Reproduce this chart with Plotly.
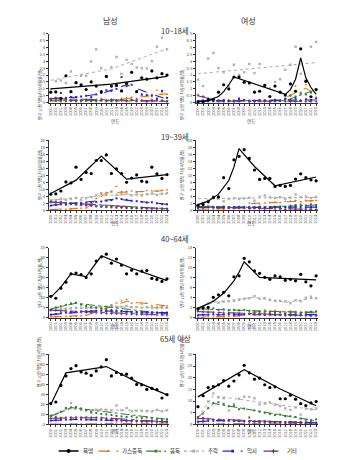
import plotly.graph_objects as go

W, H = 348, 460
FONT = "Noto Sans CJK KR, Noto Sans, sans-serif"
YEARS = list(range(2000, 2024))

# ---------------- data (rate per 100,000) ----------------
# Male 10-18
M10_hang = [0.76,0.78,0.32,1.95,0.80,1.45,1.30,0.95,1.50,1.20,0.80,1.90,1.20,1.25,0.85,1.40,2.20,0.80,1.80,1.70,2.30,1.80,2.10,2.00]
M10_hang_fit = [(2000,1.0),(2012,1.35),(2023,1.9)]
M10_gas = [0.10,0.10,0.15,0.20,0.10,0.15,0.20,0.10,0.20,0.15,0.30,0.20,0.25,0.20,0.30,0.35,0.40,0.30,0.55,0.50,0.60,0.90,0.70,0.60]
M10_gas_fit = [(2000,0.12),(2013,0.2),(2023,0.65)]
M10_poison = [0.20,0.15,0.10,0.10,0.15,0.10,0.10,0.15,0.10,0.10,0.15,0.10,0.10,0.10,0.15,0.10,0.20,0.10,0.15,0.10,0.10,0.20,0.15,0.10]
M10_poison_fit = [(2000,0.18),(2023,0.1)]
M10_fall = [1.00,1.55,1.60,1.43,2.26,1.45,1.95,1.95,2.98,3.86,2.50,1.90,2.57,3.30,2.10,3.10,2.80,2.55,2.50,2.48,3.00,4.05,4.70,3.86]
M10_fall_fit = [(2000,1.62),(2012,2.45),(2023,3.9)]
M10_drown = [0.25,0.30,0.70,0.35,0.40,0.40,0.45,0.50,0.40,0.60,0.70,0.90,0.85,1.00,1.85,1.20,1.30,0.80,0.60,0.55,0.50,0.30,0.85,0.35]
M10_drown_fit = [(2000,0.3),(2005,0.4),(2010,0.65),(2015,1.3),(2019,0.75),(2023,0.25)]
M10_other = [0.30,0.35,0.20,0.25,0.20,0.20,0.15,0.20,0.20,0.20,0.20,0.15,0.20,0.15,0.20,0.15,0.20,0.20,0.15,0.10,0.20,0.15,0.15,0.10]
M10_other_fit = [(2000,0.3),(2023,0.12)]

# Female 10-18
F10_hang = [0.05,0.07,0.20,0.25,0.76,1.30,1.00,1.86,1.86,1.48,1.43,0.76,0.83,1.25,0.45,1.20,0.76,0.55,1.36,0.83,3.90,1.55,0.43,0.95]
F10_hang_fit = [(2000,0.05),(2002,0.15),(2004,0.45),(2005,0.8),(2006,1.3),(2007,1.86),(2017,0.6),(2018,0.95),(2019,1.7),(2020,3.25),(2021,1.8),(2022,1.1),(2023,0.6)]
F10_gas = [0.05,0.05,0.10,0.10,0.05,0.10,0.15,0.10,0.10,0.15,0.10,0.15,0.10,0.20,0.15,0.10,0.20,0.30,0.55,1.20,0.76,1.30,0.70,0.40]
F10_gas_fit = [(2000,0.1),(2016,0.2),(2021,1.05),(2023,0.6)]
F10_poison = [0.10,0.15,0.10,0.20,0.15,0.10,0.15,0.10,0.20,0.15,0.10,0.15,0.10,0.15,0.10,0.20,0.15,0.30,0.50,0.45,0.65,0.60,0.75,0.95]
F10_poison_fit = [(2000,0.15),(2017,0.15),(2023,0.95)]
F10_fall = [1.67,1.20,3.20,3.60,2.50,2.20,1.20,2.74,2.00,2.20,2.80,2.14,2.80,1.24,1.07,1.50,1.70,2.38,2.74,4.05,2.10,1.60,4.05,4.40]
F10_fall_fit = [(2000,2.1),(2023,2.9)]
F10_drown = [0.10,0.15,0.20,0.10,0.15,0.20,0.10,0.15,0.30,0.20,0.15,0.10,0.20,0.15,0.10,0.20,0.15,0.25,0.20,0.30,0.15,0.25,0.20,0.30]
F10_drown_fit = [(2000,0.12),(2023,0.2)]
F10_other = [0.55,0.45,0.30,0.20,0.15,0.10,0.15,0.10,0.10,0.15,0.10,0.10,0.15,0.10,0.10,0.10,0.15,0.10,0.10,0.10,0.15,0.10,0.10,0.10]
F10_other_fit = [(2000,0.5),(2004,0.12),(2023,0.1)]

# Male 19-39
M19_hang = [4.6,4.7,5.5,8.1,7.8,12.3,8.8,10.8,10.5,14.2,14.2,15.8,10.5,11.8,10.5,8.0,9.2,10.1,8.3,8.1,12.3,10.4,9.1,10.2]
M19_hang_fit = [(2000,4.8),(2005,8.6),(2010,15.5),(2015,8.9),(2023,10.2)]
M19_gas = [0.2,0.2,0.3,0.3,0.4,0.5,0.6,0.7,1.5,3.4,4.6,5.0,5.4,6.8,5.3,5.4,5.5,5.2,5.3,5.6,5.5,5.4,5.7,5.8]
M19_gas_fit = [(2000,0.2),(2007,0.6),(2011,5.0),(2023,5.6)]
M19_poison = [2.5,2.3,2.4,2.1,1.9,1.8,1.6,1.5,1.4,1.2,1.0,1.0,0.9,0.8,0.8,0.7,0.6,0.7,0.6,0.6,0.5,0.5,0.5,0.4]
M19_poison_fit = [(2000,2.4),(2023,0.45)]
M19_fall = [2.8,2.9,3.2,3.0,3.3,3.5,3.0,3.4,3.8,4.3,4.9,4.5,5.2,4.4,4.6,4.8,4.3,4.5,4.2,4.6,4.8,4.4,4.7,4.9]
M19_fall_fit = [(2000,2.9),(2012,4.3),(2023,4.7)]
M19_drown = [1.3,1.5,1.7,1.6,1.8,1.9,2.1,2.2,2.3,2.4,2.5,2.7,2.9,3.4,3.2,3.0,2.7,2.6,2.4,2.2,2.3,2.0,1.8,1.7]
M19_drown_fit = [(2000,1.4),(2013,3.2),(2023,1.7)]
M19_other = [2.3,2.2,2.0,1.9,1.8,1.6,1.5,1.4,1.3,1.2,1.1,1.0,0.9,0.9,0.8,0.7,0.7,0.6,0.6,0.5,0.5,0.5,0.4,0.4]
M19_other_fit = [(2000,2.3),(2023,0.4)]

# Female 19-39
F19_hang = [1.4,1.7,2.4,3.6,3.8,9.3,6.2,14.4,15.4,17.3,14.8,11.5,8.8,9.1,9.1,6.8,7.1,6.8,7.1,8.9,10.4,9.3,8.7,8.4]
F19_hang_fit = [(2000,1.6),(2002,2.6),(2004,4.6),(2006,8.5),(2007,12.3),(2008,17.6),(2011,12.5),(2015,7.0),(2023,9.5)]
F19_gas = [0.3,0.3,0.2,0.4,0.4,0.3,0.5,0.5,0.6,1.0,2.0,1.9,1.8,2.1,2.2,2.3,2.2,2.5,2.6,2.8,2.4,2.9,2.6,2.8]
F19_gas_fit = [(2000,0.3),(2008,0.6),(2010,1.9),(2023,2.8)]
F19_poison = [1.0,1.2,1.1,1.0,0.9,1.1,0.8,0.9,1.0,0.8,0.9,0.7,0.8,0.7,0.9,1.0,1.1,1.0,1.3,1.5,1.6,1.4,1.7,1.5]
F19_poison_fit = [(2000,1.1),(2011,0.8),(2023,1.5)]
F19_fall = [1.4,2.0,2.8,3.9,3.3,2.6,3.2,3.4,3.3,3.4,3.6,2.7,3.9,4.2,3.7,3.5,3.7,3.3,3.6,4.5,3.8,3.9,3.5,3.8]
F19_fall_fit = [(2000,3.3),(2023,3.7)]
F19_drown = [0.7,0.8,0.9,0.8,0.7,0.9,0.8,0.9,0.8,0.9,0.8,0.9,1.0,0.9,0.8,0.9,0.8,0.9,0.9,1.0,0.9,0.8,0.9,0.9]
F19_drown_fit = [(2000,0.8),(2023,0.9)]
F19_other = [1.0,0.9,0.9,0.8,0.8,0.7,0.7,0.6,0.7,0.6,0.5,0.6,0.5,0.4,0.5,0.4,0.4,0.3,0.4,0.3,0.3,0.3,0.3,0.2]
F19_other_fit = [(2000,0.95),(2023,0.25)]

# Male 40-64
M40_hang = [10.8,9.8,14.8,17.8,22.0,22.4,21.6,20.2,22.0,28.4,30.4,31.8,27.3,29.4,26.3,22.0,23.8,22.0,23.3,23.6,19.7,19.2,18.2,19.5]
M40_hang_fit = [(2000,10.2),(2002,15.3),(2004,22.0),(2007,20.6),(2010,31.0),(2016,24.8),(2023,18.6)]
M40_gas = [0.5,0.5,0.6,0.7,0.6,0.8,1.0,1.3,2.6,3.5,4.8,5.5,6.3,7.5,8.6,9.2,7.4,7.6,7.0,7.3,6.1,5.5,5.9,6.0]
M40_gas_fit = [(2000,0.5),(2007,1.2),(2015,8.3),(2023,6.0)]
M40_poison = [4.0,5.2,5.8,6.5,7.2,7.6,6.6,5.9,5.2,5.0,4.6,4.3,4.0,3.7,3.5,3.1,3.0,2.8,2.6,2.5,2.4,2.3,2.1,2.2]
M40_poison_fit = [(2000,4.5),(2005,7.3),(2023,2.0)]
M40_fall = [3.9,4.2,4.6,4.5,4.8,5.0,5.1,4.9,5.2,5.4,5.5,5.7,6.3,5.6,5.5,5.9,5.3,5.4,5.1,5.3,5.0,4.8,5.2,5.0]
M40_fall_fit = [(2000,4.2),(2012,5.5),(2023,5.0)]
M40_drown = [1.6,1.9,2.3,2.6,2.8,3.0,3.2,3.3,3.4,3.5,3.6,3.4,3.5,3.3,3.2,3.1,3.0,2.9,2.8,2.9,2.7,2.7,2.6,2.6]
M40_drown_fit = [(2000,1.6),(2009,3.5),(2023,2.6)]
M40_other = [3.9,3.7,3.5,3.4,3.2,3.0,2.9,2.7,2.6,2.5,2.4,2.3,2.2,2.1,2.0,1.9,1.9,1.8,1.7,1.7,1.6,1.5,1.5,1.4]
M40_other_fit = [(2000,3.8),(2023,1.4)]

# Female 40-64
F40_hang = [1.8,2.0,2.1,4.1,4.6,5.1,4.4,8.2,8.4,11.9,11.2,9.4,8.9,8.1,7.7,8.4,8.2,7.5,7.7,7.4,8.7,7.2,6.4,8.4]
F40_hang_fit = [(2000,1.9),(2003,3.3),(2005,4.9),(2007,7.4),(2008,9.1),(2009,11.2),(2012,8.1),(2023,7.6)]
F40_gas = [0.1,0.1,0.2,0.2,0.2,0.2,0.3,0.3,0.4,0.6,0.9,1.1,1.3,1.6,1.4,1.5,1.3,1.2,1.4,1.3,1.2,1.1,1.3,1.2]
F40_gas_fit = [(2000,0.1),(2008,0.4),(2012,1.3),(2023,1.2)]
F40_poison = [1.6,1.8,1.7,1.9,1.6,1.7,1.5,1.6,1.5,1.6,1.4,1.3,1.2,1.2,1.1,1.0,1.1,0.9,1.0,1.0,0.9,1.1,1.2,1.3]
F40_poison_fit = [(2000,1.8),(2008,1.5),(2023,1.0)]
F40_fall = [1.9,2.2,2.8,3.3,3.0,3.2,3.3,3.4,3.6,3.8,3.9,4.3,3.8,3.9,3.6,3.4,3.4,3.3,2.9,3.5,3.3,4.0,4.2,3.9]
F40_fall_fit = [(2000,1.9),(2003,3.1),(2011,4.1),(2017,3.1),(2023,4.0)]
F40_drown = [0.5,0.6,0.6,0.7,0.6,0.7,0.7,0.6,0.7,0.7,0.8,0.7,0.7,0.6,0.7,0.6,0.6,0.7,0.6,0.6,0.6,0.7,0.6,0.6]
F40_drown_fit = [(2000,0.6),(2023,0.65)]
F40_other = [1.3,1.2,1.1,1.1,1.0,1.0,0.9,0.9,0.9,0.8,0.8,0.8,0.7,0.7,0.6,0.6,0.6,0.5,0.5,0.5,0.5,0.4,0.4,0.4]
F40_other_fit = [(2000,1.25),(2023,0.4)]

# Male 65+
M65_hang = [20.8,22.4,39.0,48.5,55.8,58.7,52.5,51.2,49.0,53.5,57.5,64.7,48.5,52.0,50.0,50.2,46.2,40.0,39.6,35.0,36.0,34.7,26.4,29.7]
M65_hang_fit = [(2000,20.0),(2003,51.5),(2011,57.8),(2017,42.5),(2023,29.5)]
M65_gas = [0.3,0.3,0.4,0.3,0.4,0.4,0.5,0.5,0.6,0.6,0.8,1.0,1.1,1.2,1.3,1.4,1.4,1.3,1.5,1.4,1.3,1.4,1.3,1.2]
M65_gas_fit = [(2000,0.3),(2008,0.6),(2014,1.3),(2023,1.3)]
M65_poison = [8.5,7.6,12.5,16.5,17.0,17.2,16.0,14.5,12.0,11.5,10.5,10.0,9.5,8.5,8.0,7.5,8.0,7.0,6.5,7.0,6.0,5.5,5.0,5.2]
M65_poison_fit = [(2000,8.0),(2004,16.8),(2023,5.2)]
M65_fall = [9.0,10.5,12.8,15.3,21.5,16.8,14.5,13.8,12.5,14.7,15.0,14.8,13.9,19.0,14.2,16.4,13.2,13.8,13.5,13.2,12.8,14.5,13.2,14.3]
M65_fall_fit = [(2000,9.5),(2004,15.2),(2023,13.6)]
M65_drown = [3.8,4.2,4.5,4.8,5.0,5.2,5.0,4.8,4.9,4.7,4.5,4.4,4.2,4.0,3.8,3.7,3.6,3.5,3.4,3.3,3.2,3.0,2.9,2.8]
M65_drown_fit = [(2000,4.0),(2005,5.0),(2023,2.8)]
M65_other = [6.0,6.2,6.5,6.8,7.0,7.2,7.0,7.2,6.8,6.9,6.5,6.2,5.5,5.0,4.5,4.2,3.8,3.6,3.4,3.2,3.0,2.9,2.8,2.6]
M65_other_fit = [(2000,6.2),(2010,6.8),(2023,2.6)]

# Female 65+
F65_hang = [7.6,12.3,15.8,16.2,17.0,18.8,16.4,18.6,21.2,25.3,22.1,19.4,19.8,17.0,15.8,16.1,11.0,11.0,12.5,10.8,8.9,8.1,9.2,9.8]
F65_hang_fit = [(2000,11.8),(2009,23.4),(2016,15.2),(2023,8.0)]
F65_gas = [0.1,0.1,0.1,0.2,0.2,0.2,0.2,0.3,0.3,0.4,0.5,0.5,0.6,0.5,0.6,0.6,0.5,0.5,0.6,0.5,0.5,0.4,0.5,0.4]
F65_gas_fit = [(2000,0.1),(2010,0.5),(2023,0.5)]
F65_poison = [3.2,2.8,7.0,9.2,9.5,8.8,7.8,8.0,6.5,6.8,3.0,6.0,5.5,5.0,4.5,4.0,4.2,3.5,3.5,3.2,2.5,2.0,1.8,2.2]
F65_poison_fit = [(2000,3.0),(2003,9.0),(2023,1.5)]
F65_fall = [3.0,4.5,9.8,13.3,11.5,11.2,6.0,8.8,11.0,11.9,11.8,11.2,8.5,9.0,9.5,8.5,7.9,6.8,6.2,7.3,4.2,6.8,6.5,6.8]
F65_fall_fit = [(2000,3.0),(2003,12.3),(2023,6.2)]
F65_drown = [1.2,1.3,1.5,1.6,1.7,1.6,1.6,1.5,1.5,1.4,1.4,1.3,1.2,1.3,1.2,1.1,1.1,1.0,1.0,0.9,1.0,0.9,0.9,0.8]
F65_drown_fit = [(2000,1.2),(2004,1.7),(2023,0.8)]
F65_other = [2.6,2.4,2.3,2.1,2.0,1.9,1.8,1.6,1.5,1.4,1.3,1.2,1.1,1.0,0.9,0.8,0.8,0.7,0.7,0.6,0.6,0.5,0.5,0.5]
F65_other_fit = [(2000,2.6),(2023,0.5)]

PANELS = ["M10", "F10", "M19", "F19", "M40", "F40", "M65", "F65"]
Y_MAX = {"M10": 5, "F10": 5, "M19": 20, "F19": 20, "M40": 35, "F40": 14, "M65": 70, "F65": 30}
Y_DTICK = {"M10": 0.5, "F10": 0.5, "M19": 2, "F19": 2, "M40": 5, "F40": 2, "M65": 10, "F65": 5}
ROW_TITLES = ["10~18세", "19~39세", "40~64세", "65세 이상"]
COL_TITLES = ["남성", "여성"]
X_TITLE = "연도"
Y_TITLE = "인구 10만 명당 자살사망률(명)"

DRAW_ORDER = ["fall", "gas", "poison", "drown", "other", "hang"]
LEGEND_ORDER = ["hang", "gas", "poison", "fall", "drown", "other"]
LABELS = {"hang": "목맴", "gas": "가스중독", "poison": "음독", "fall": "추락", "drown": "익사", "other": "기타"}
STYLE = {
    "hang":   dict(color="#000000", dash="solid", width=1.2, symbol="circle", msize=3.2),
    "gas":    dict(color="#E46C0A", dash="dash", width=1.0, symbol="triangle-up", msize=2.4),
    "poison": dict(color="#2E7D32", dash="dashdot", width=1.0, symbol="square", msize=2.0),
    "fall":   dict(color="#AAAAAA", dash="dot", width=1.0, symbol="x", msize=2.6),
    "drown":  dict(color="#1F1FE6", dash="dash", width=1.1, symbol="square", msize=2.0),
    "other":  dict(color="#7B2C7B", dash="longdashdot", width=1.0, symbol="cross", msize=2.3),
}

# layout geometry (px)
COL_PX = [(47, 168), (195, 318)]
ROW_PX = [(30, 100), (138, 209), (247, 318), (355, 426)]
COL_TITLE_POS = [(100, 9), (257, 9)]
ROW_TITLE_Y = [19, 127, 238, 347]
XTITLE_Y = [113, 222, 331, 438]
YTITLE_X = [33, 181]
LEGEND_Y = 453
LEGEND_X = [57, 97, 145, 183, 222, 263]

fig = go.Figure()
layout = {}
annotations = []


def px(x, y):
    return x / W, 1 - y / H


for k, p in enumerate(PANELS):
    r, c = divmod(k, 2)
    n = k + 1
    xs = "x" if n == 1 else f"x{n}"
    ys = "y" if n == 1 else f"y{n}"
    x0, x1 = COL_PX[c]
    y0, y1 = ROW_PX[r]
    layout["xaxis" if n == 1 else f"xaxis{n}"] = dict(
        domain=[x0 / W, x1 / W], anchor=ys, range=[1999.6, 2023.4],
        tickmode="linear", tick0=2000, dtick=1, tickangle=-90,
        tickfont=dict(size=4, color="#444", family=FONT),
        showline=True, linecolor="#333", linewidth=0.8,
        ticks="outside", ticklen=2, tickwidth=0.6, tickcolor="#333",
        showgrid=False, zeroline=False, fixedrange=True)
    layout["yaxis" if n == 1 else f"yaxis{n}"] = dict(
        domain=[1 - y1 / H, 1 - y0 / H], anchor=xs, range=[0, Y_MAX[p]],
        tickmode="linear", tick0=0, dtick=Y_DTICK[p],
        tickfont=dict(size=4, color="#444", family=FONT),
        showline=True, linecolor="#333", linewidth=0.8,
        ticks="outside", ticklen=2, tickwidth=0.6, tickcolor="#333",
        showgrid=False, zeroline=False, fixedrange=True)

    for s in DRAW_ORDER:
        st = STYLE[s]
        obs = globals()[f"{p}_{s}"]
        fit = globals()[f"{p}_{s}_fit"]
        fig.add_trace(go.Scatter(
            x=[f[0] for f in fit], y=[f[1] for f in fit], mode="lines",
            line=dict(color=st["color"], dash=st["dash"], width=st["width"]),
            xaxis=xs, yaxis=ys, hoverinfo="skip", cliponaxis=False))
        fig.add_trace(go.Scatter(
            x=YEARS, y=obs, mode="markers",
            marker=dict(symbol=st["symbol"], size=st["msize"], color=st["color"],
                        line=dict(width=0)),
            xaxis=xs, yaxis=ys, cliponaxis=False))

    # axis titles
    xt, yt = px((x0 + x1) / 2, XTITLE_Y[r])
    annotations.append(dict(x=xt, y=yt, xref="paper", yref="paper", text=X_TITLE,
                            showarrow=False, font=dict(size=4.5, color="#444", family=FONT)))
    xt, yt = px(YTITLE_X[c], (y0 + y1) / 2)
    annotations.append(dict(x=xt, y=yt, xref="paper", yref="paper", text=Y_TITLE,
                            textangle=-90, showarrow=False,
                            font=dict(size=4, color="#444", family=FONT)))

for i, t in enumerate(COL_TITLES):
    xt, yt = px(*COL_TITLE_POS[i])
    annotations.append(dict(x=xt, y=yt, xref="paper", yref="paper", text=t,
                            showarrow=False, font=dict(size=8, color="#333", family=FONT)))
for r, t in enumerate(ROW_TITLES):
    xt, yt = px(W / 2, ROW_TITLE_Y[r])
    annotations.append(dict(x=xt, y=yt, xref="paper", yref="paper", text=t,
                            showarrow=False, font=dict(size=7.5, color="#333", family=FONT)))

# manual legend
layout["xaxis9"] = dict(domain=[0, 1], anchor="y9", range=[0, W], visible=False, fixedrange=True)
layout["yaxis9"] = dict(domain=[0, 20 / H], anchor="x9", range=[0, 20], visible=False, fixedrange=True)
LY = H - LEGEND_Y
for i, s in enumerate(LEGEND_ORDER):
    st = STYLE[s]
    sx = LEGEND_X[i]
    fig.add_trace(go.Scatter(
        x=[sx, sx + 20], y=[LY, LY], mode="lines",
        line=dict(color=st["color"], dash=st["dash"], width=st["width"] + 0.3),
        xaxis="x9", yaxis="y9", hoverinfo="skip"))
    fig.add_trace(go.Scatter(
        x=[sx + 10], y=[LY], mode="markers",
        marker=dict(symbol=st["symbol"], size=st["msize"] + 0.8, color=st["color"]),
        xaxis="x9", yaxis="y9", hoverinfo="skip"))
    annotations.append(dict(x=sx + 22, y=LY, xref="x9", yref="y9", text=LABELS[s],
                            xanchor="left", showarrow=False,
                            font=dict(size=5.5, color="#333", family=FONT)))

fig.update_layout(
    width=W, height=H, margin=dict(l=0, r=0, t=0, b=0),
    paper_bgcolor="white", plot_bgcolor="white", showlegend=False,
    font=dict(family=FONT), annotations=annotations, **layout)

fig.write_html("out.html")
